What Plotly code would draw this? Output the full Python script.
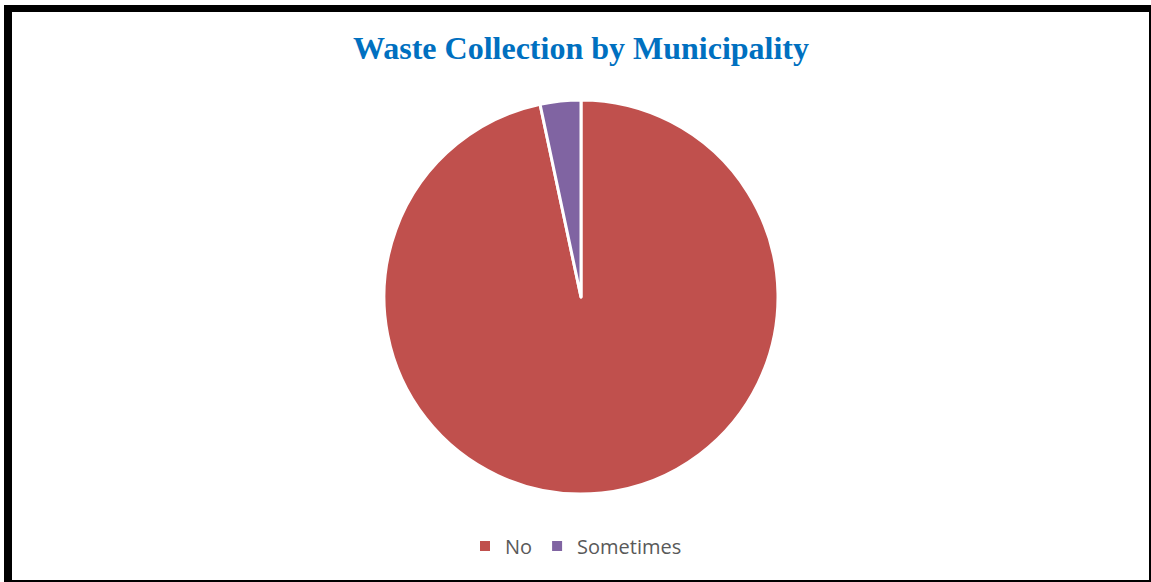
import plotly.graph_objects as go

# Survey responses: does the municipality collect the waste?
labels = ["No", "Sometimes"]
counts = [29, 1]
colors = ["#C0504D", "#8064A2"]

W, H = 1151, 582


def px_x(x):
    return x / W


def px_y(y):
    return 1 - y / H


fig = go.Figure(
    go.Pie(
        labels=labels,
        values=counts,
        marker=dict(colors=colors, line=dict(color="white", width=3)),
        sort=False,
        direction="clockwise",
        rotation=0,
        textinfo="none",
        hoverinfo="label+value+percent",
        domain=dict(x=[px_x(384), px_x(778)], y=[px_y(494), px_y(100)]),
    )
)

# Frame around the chart: heavy on the left and top, thin on the right and bottom
frame = [
    (4, 5, 12, 582),
    (4, 5, 1151, 12),
    (1149, 5, 1151, 582),
    (4, 580, 1151, 582),
]
shapes = [
    dict(
        type="rect", xref="paper", yref="paper",
        x0=px_x(x0), x1=px_x(x1), y0=px_y(y1), y1=px_y(y0),
        fillcolor="black", line=dict(width=0), layer="above",
    )
    for x0, y0, x1, y1 in frame
]

fig.update_layout(
    width=W,
    height=H,
    margin=dict(l=0, r=0, t=0, b=0),
    paper_bgcolor="white",
    plot_bgcolor="white",
    title=dict(
        text="<b>Waste Collection by Municipality</b>",
        x=px_x(581), xanchor="center",
        y=px_y(48), yanchor="middle",
        font=dict(family="Liberation Serif, Times New Roman, serif", size=32, color="#0070C0"),
    ),
    showlegend=True,
    legend=dict(
        orientation="h",
        x=px_x(576), xanchor="center",
        y=px_y(546), yanchor="middle",
        font=dict(family="Open Sans, Liberation Sans, sans-serif", size=20, color="#595959"),
        itemsizing="constant",
        itemwidth=30,
        traceorder="normal",
    ),
    shapes=shapes,
)

fig.write_html("out.html")
